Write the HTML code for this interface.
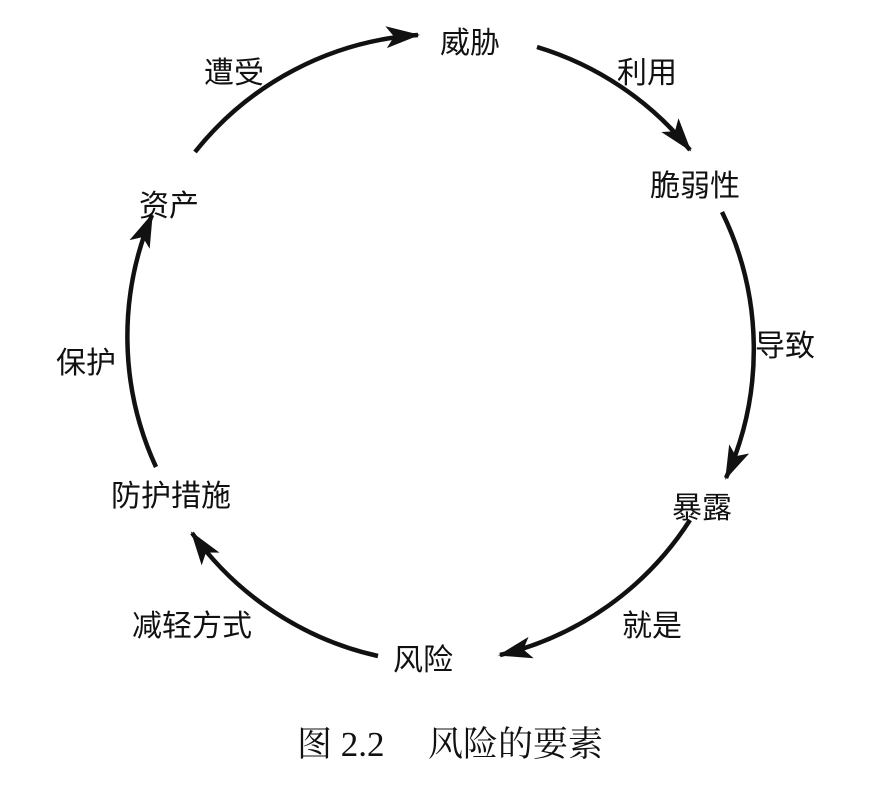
<!DOCTYPE html>
<html><head><meta charset="utf-8"><style>
html,body{margin:0;padding:0;background:#fff;}
svg{display:block;}
text{font-family:"Liberation Sans","Noto Sans CJK SC",sans-serif;font-size:30px;fill:#111;}
.cap{font-family:"Liberation Serif","Noto Serif CJK SC",serif;font-size:35px;}
</style></head><body>
<svg width="874" height="792" viewBox="0 0 874 792" xmlns="http://www.w3.org/2000/svg">
<defs>
<marker id="b" viewBox="0 0 34 22" markerWidth="34" markerHeight="22" refX="32" refY="11" orient="auto" markerUnits="userSpaceOnUse">
<path d="M0,0 L34,11 L0,22 L8,11 Z" fill="#111"/>
</marker>
</defs>
<g fill="none" stroke="#111" stroke-width="4.5">
<path d="M195,152 A312,312 0 0 1 418,35" marker-end="url(#b)"/>
<path d="M537,47 A312,312 0 0 1 690,150" marker-end="url(#b)"/>
<path d="M722,212 A312,312 0 0 1 726,478" marker-end="url(#b)"/>
<path d="M690,520 A312,312 0 0 1 500,655" marker-end="url(#b)"/>
<path d="M378,656 A312,312 0 0 1 192,533" marker-end="url(#b)"/>
<path d="M156,467 A312,312 0 0 1 152,215" marker-end="url(#b)"/>
</g>
<text x="440" y="53">威胁</text>
<text x="617" y="83">利用</text>
<text x="650" y="196">脆弱性</text>
<text x="755" y="356">导致</text>
<text x="672" y="518">暴露</text>
<text x="622" y="636">就是</text>
<text x="393" y="670">风险</text>
<text x="132" y="636">减轻方式</text>
<text x="111" y="506">防护措施</text>
<text x="56" y="373">保护</text>
<text x="139" y="216">资产</text>
<text x="204" y="83">遭受</text>
<text class="cap" x="297" y="756">图 2.2</text>
<text class="cap" x="428" y="756">风险的要素</text>
</svg>
</body></html>
